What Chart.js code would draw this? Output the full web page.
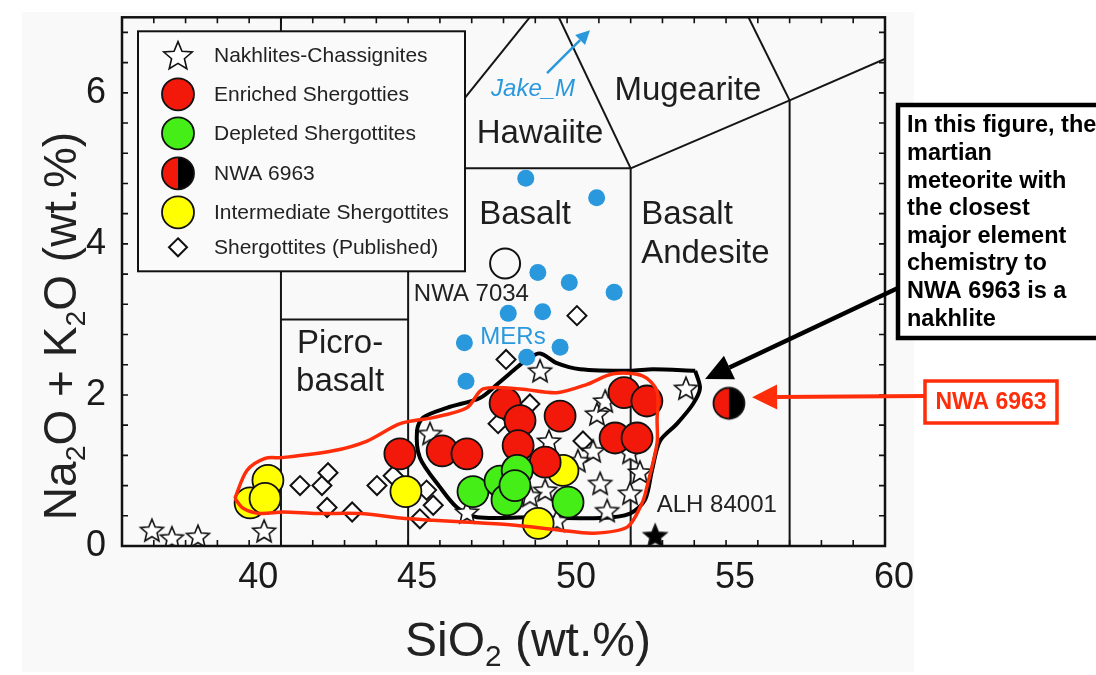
<!DOCTYPE html>
<html>
<head>
<meta charset="utf-8">
<script src="https://cdn.jsdelivr.net/npm/chart.js@4.4.1/dist/chart.umd.min.js"></script>
<style>
  html, body { margin: 0; padding: 0; background: #fff; }
  #wrap { width: 1096px; height: 675px; }
</style>
</head>
<body>
<div id="wrap"><canvas id="tas" width="1096" height="675"></canvas></div>
<script>
// --- data (SiO2 wt.% / Na2O+K2O wt.%) ---
const nakhliteSiO2 = [36.94, 37.57, 38.39, 40.47, 49.15, 50.94, 49.43, 50.82, 51.98, 51.04, 51.98, 49.31, 53.74, 49.68, 51.26, 45.69, 46.85, 51.20, 50.34, 48.83, 52.29];
const nakhliteAlk  = [0.21, 0.11, 0.13, 0.20, 2.32, 1.75, 1.39, 1.26, 1.24, 0.83, 0.70, 0.74, 2.09, 0.34, 0.47, 1.49, 0.45, 1.92, 1.13, 0.67, 0.98];

const alhSiO2 = [52.77];
const alhAlk  = [0.14];

const enrichedSiO2 = [44.74, 46.07, 46.85, 48.05, 48.52, 49.78, 48.46, 49.31, 51.79, 52.51, 51.51, 52.20];
const enrichedAlk  = [1.22, 1.26, 1.22, 1.89, 1.66, 1.72, 1.33, 1.11, 2.03, 1.92, 1.43, 1.43];

const depletedSiO2 = [47.04, 47.89, 48.11, 48.43, 48.36, 50.03];
const depletedAlk  = [0.72, 0.86, 0.61, 1.00, 0.80, 0.58];

const intermediateSiO2 = [40.59, 40.03, 40.50, 44.93, 49.87, 49.09];
const intermediateAlk  = [0.87, 0.57, 0.63, 0.72, 1.00, 0.30];

const nwa6963SiO2 = [55.09];
const nwa6963Alk  = [1.89];

const nwa7034SiO2 = [48.05];
const nwa7034Alk  = [3.74];

const publishedSiO2 = [41.60, 42.29, 42.48, 42.45, 43.24, 44.02, 44.53, 45.58, 45.79, 45.37, 50.31, 48.08, 48.83, 47.83, 50.50];
const publishedAlk  = [0.80, 0.80, 0.97, 0.51, 0.45, 0.80, 0.93, 0.74, 0.54, 0.36, 3.05, 2.47, 1.88, 1.62, 1.39];

const merSiO2 = [48.70, 50.93, 49.08, 50.07, 51.48, 48.15, 49.23, 46.77, 49.78, 48.73, 46.82];
const merAlk  = [4.87, 4.61, 3.62, 3.49, 3.36, 3.08, 3.10, 2.69, 2.63, 2.50, 2.18];

// nakhlite field (black outline)
const nakhliteFieldSiO2 = [54.03, 54.18, 53.96, 53.46, 52.92, 52.67, 52.45, 51.98, 51.04, 48.83, 47.17, 46.54, 46.00, 45.37, 45.28, 45.47, 46.22, 47.26, 47.80, 48.30, 48.74, 49.15, 49.68, 50.41, 51.98, 52.70];
const nakhliteFieldAlk  = [2.32, 2.09, 1.88, 1.62, 1.39, 1.00, 0.61, 0.43, 0.37, 0.38, 0.38, 0.51, 0.78, 1.17, 1.53, 1.70, 1.83, 1.96, 2.14, 2.32, 2.47, 2.55, 2.42, 2.34, 2.32, 2.34];

// shergottite field (red outline)
const shergFieldSiO2 = [39.55, 39.93, 40.50, 41.03, 42.64, 43.71, 44.75, 45.78, 46.85, 47.36, 48.52, 49.68, 50.63, 51.45, 52.39, 52.83, 52.83, 52.83, 52.51, 52.36, 51.89, 50.82, 49.78, 48.20, 46.63, 45.78, 44.75, 43.49, 42.13, 41.06, 40.34, 39.81];
const shergFieldAlk  = [0.63, 1.00, 1.16, 1.17, 1.26, 1.39, 1.62, 1.70, 1.83, 2.08, 2.08, 2.03, 2.14, 2.28, 2.25, 2.05, 1.66, 1.36, 0.78, 0.57, 0.25, 0.17, 0.21, 0.28, 0.32, 0.34, 0.37, 0.43, 0.43, 0.45, 0.43, 0.50];

// TAS field boundaries [x1, y1, x2, y2]
const tasBoundaries = [
    [41, 0, 41, 7], [41, 3, 45, 3], [45, 0, 45, 5], [45, 5, 52, 5], [52, 0, 52, 5],
    [45, 5, 49.4, 7.3], [49.4, 7.3, 52, 5], [52, 5, 57, 5.9], [57, 0, 57, 5.9],
    [57, 5.9, 63, 7], [53, 9.3, 57, 5.9]
];

const xTickLabels = [40, 45, 50, 55, 60];
const yTickLabels = [0, 2, 4, 6];

const legendLabels = ['Nakhlites-Chassignites', 'Enriched Shergotties', 'Depleted Shergottites',
    'NWA 6963', 'Intermediate Shergottites', 'Shergottites (Published)'];

const FONT = '"Liberation Sans", Arial, Helvetica, sans-serif';
const RED = '#f2180a';
const GREEN = '#45ee16';
const YELLOW = '#ffff00';
const BLUE = '#2a98dc';
const ANNO_RED = '#ff2d0a';

// --- symbol helpers ---
function starPath(c, cx, cy, R, r) {
    c.beginPath();
    for (let i = 0; i < 10; i++) {
        const a = -Math.PI / 2 + i * Math.PI / 5;
        const rad = i % 2 === 0 ? R : r;
        const px = cx + rad * Math.cos(a), py = cy + rad * Math.sin(a);
        if (i === 0) c.moveTo(px, py); else c.lineTo(px, py);
    }
    c.closePath();
}
function drawStar(c, cx, cy, R, fill) {
    starPath(c, cx, cy + R * 0.09, R, R * 0.45);
    c.fillStyle = fill; c.fill();
    c.lineWidth = 1.6; c.strokeStyle = '#111'; c.lineJoin = 'miter'; c.stroke();
}
function drawHalf(c, cx, cy, R) {
    c.beginPath(); c.moveTo(cx, cy); c.arc(cx, cy, R, Math.PI / 2, Math.PI * 1.5); c.closePath();
    c.fillStyle = RED; c.fill();
    c.beginPath(); c.moveTo(cx, cy); c.arc(cx, cy, R, -Math.PI / 2, Math.PI / 2); c.closePath();
    c.fillStyle = '#000'; c.fill();
    c.beginPath(); c.arc(cx, cy, R, 0, Math.PI * 2);
    c.lineWidth = 1.8; c.strokeStyle = '#111'; c.stroke();
}
function makeCanvas(size, fn) {
    const cv = document.createElement('canvas');
    cv.width = size; cv.height = size;
    fn(cv.getContext('2d'), size / 2);
    return cv;
}
const openStar = makeCanvas(30, (c, m) => drawStar(c, m, m, 12, '#fff'));
const blackStar = makeCanvas(30, (c, m) => drawStar(c, m, m, 12, '#000'));
const halfDot = makeCanvas(38, (c, m) => drawHalf(c, m, m, 15.5));

const pts = (xs, ys) => xs.map((x, i) => ({ x: x, y: ys[i] }));
const loop = (xs, ys) => { const p = pts(xs, ys); p.push(p[0]); return p; };

// --- datasets (lower order = drawn on top) ---
const datasets = [];
tasBoundaries.forEach(s => datasets.push({
    label: '_tas', data: [{ x: s[0], y: s[1] }, { x: s[2], y: s[3] }],
    showLine: true, borderColor: '#151515', borderWidth: 2, pointRadius: 0, order: 30
}));
datasets.push({
    label: '_nakhliteField', data: loop(nakhliteFieldSiO2, nakhliteFieldAlk),
    showLine: true, borderColor: '#000', borderWidth: 4, tension: 0.3, pointRadius: 0, order: 20
});
datasets.push({
    label: '_shergField', data: loop(shergFieldSiO2, shergFieldAlk),
    showLine: true, borderColor: ANNO_RED, borderWidth: 3.5, tension: 0.3, pointRadius: 0, order: 0
});
datasets.push({ label: 'MERs', data: pts(merSiO2, merAlk), pointStyle: 'circle', pointRadius: 8.5,
    backgroundColor: BLUE, borderWidth: 0, order: 14 });
datasets.push({ label: 'NWA 7034', data: pts(nwa7034SiO2, nwa7034Alk), pointStyle: 'circle', pointRadius: 15,
    backgroundColor: 'rgba(0,0,0,0)', borderColor: '#111', borderWidth: 2, order: 13 });
datasets.push({ label: legendLabels[5], data: pts(publishedSiO2, publishedAlk), pointStyle: 'rectRot', pointRadius: 9.5,
    backgroundColor: '#fff', borderColor: '#111', borderWidth: 2, order: 12 });
datasets.push({ label: legendLabels[0], data: pts(nakhliteSiO2, nakhliteAlk), pointStyle: openStar, pointRadius: 12, order: 10 });
datasets.push({ label: 'ALH 84001', data: pts(alhSiO2, alhAlk), pointStyle: blackStar, pointRadius: 12, order: 10 });
datasets.push({ label: legendLabels[4], data: pts(intermediateSiO2, intermediateAlk), pointStyle: 'circle', pointRadius: 15.5,
    backgroundColor: YELLOW, borderColor: '#111', borderWidth: 1.8, order: 5 });
datasets.push({ label: legendLabels[1], data: pts(enrichedSiO2, enrichedAlk), pointStyle: 'circle', pointRadius: 15.5,
    backgroundColor: RED, borderColor: '#111', borderWidth: 1.8, order: 4 });
datasets.push({ label: legendLabels[2], data: pts(depletedSiO2, depletedAlk), pointStyle: 'circle', pointRadius: 15.5,
    backgroundColor: GREEN, borderColor: '#111', borderWidth: 1.8, order: 3 });
datasets.push({ label: legendLabels[3], data: pts(nwa6963SiO2, nwa6963Alk), pointStyle: halfDot, pointRadius: 15.5, order: 2 });

// --- helpers for drawing text ---
function richText(c, parts, x, y, size, align) {
    const sub = size * 0.62;
    let total = 0;
    parts.forEach(p => { c.font = (p[1] ? sub : size) + 'px ' + FONT; total += c.measureText(p[0]).width; });
    let cx = align === 'center' ? x - total / 2 : x;
    c.textAlign = 'left'; c.textBaseline = 'alphabetic';
    parts.forEach(p => {
        c.font = (p[1] ? sub : size) + 'px ' + FONT;
        c.fillText(p[0], cx, p[1] ? y + size * 0.2 : y);
        cx += c.measureText(p[0]).width;
    });
}
function arrow(c, x1, y1, x2, y2, color, width, headLen, headHalf) {
    const a = Math.atan2(y2 - y1, x2 - x1);
    const bx = x2 - headLen * Math.cos(a), by = y2 - headLen * Math.sin(a);
    c.strokeStyle = color; c.lineWidth = width; c.lineCap = 'butt';
    c.beginPath(); c.moveTo(x1, y1); c.lineTo(bx, by); c.stroke();
    c.fillStyle = color; c.beginPath(); c.moveTo(x2, y2);
    c.lineTo(bx + headHalf * Math.sin(a), by - headHalf * Math.cos(a));
    c.lineTo(bx - headHalf * Math.sin(a), by + headHalf * Math.cos(a));
    c.closePath(); c.fill();
}

// background of the figure
const backdrop = {
    id: 'backdrop',
    beforeDraw(chart) {
        const c = chart.ctx;
        c.save();
        c.fillStyle = '#fff'; c.fillRect(0, 0, chart.width, chart.height);
        c.fillStyle = '#f9f9f9'; c.fillRect(22, 12, 892, 660);
        c.restore();
    }
};

// legend box inside the plot
const insideLegend = {
    id: 'insideLegend',
    afterDatasetsDraw(chart) {
        const c = chart.ctx, a = chart.chartArea;
        const L = a.left + 16, T = a.top + 14, W = 327, H = 240;
        c.save();
        c.fillStyle = '#fafafa'; c.fillRect(L, T, W, H);
        c.lineWidth = 2; c.strokeStyle = '#111'; c.strokeRect(L, T, W, H);
        const rows = [24, 63, 102, 142, 181, 216];
        const sx = L + 40, tx = L + 76;
        rows.forEach((ry, i) => {
            const y = T + ry;
            if (i === 0) drawStar(c, sx, y, 15, '#fff');
            else if (i === 3) drawHalf(c, sx, y, 16);
            else if (i === 5) {
                c.beginPath(); c.moveTo(sx, y - 9); c.lineTo(sx + 9, y); c.lineTo(sx, y + 9); c.lineTo(sx - 9, y); c.closePath();
                c.fillStyle = '#fff'; c.fill(); c.lineWidth = 2; c.strokeStyle = '#111'; c.stroke();
            } else {
                c.beginPath(); c.arc(sx, y, 16, 0, Math.PI * 2);
                c.fillStyle = [null, RED, GREEN, null, YELLOW][i]; c.fill();
                c.lineWidth = 1.8; c.strokeStyle = '#111'; c.stroke();
            }
            c.fillStyle = '#222'; c.font = '21px ' + FONT; c.textAlign = 'left'; c.textBaseline = 'middle';
            c.fillText(legendLabels[i], tx, y + 1);
        });
        c.restore();
    }
};

// frame with inward ticks on all four sides
const frame = {
    id: 'frame',
    afterDatasetsDraw(chart) {
        const c = chart.ctx, a = chart.chartArea, xs = chart.scales.x, ys = chart.scales.y;
        c.save();
        c.strokeStyle = '#111'; c.lineWidth = 1.6;
        c.beginPath();
        xs.ticks.forEach(t => {
            const p = xs.getPixelForValue(t.value);
            c.moveTo(p, a.bottom); c.lineTo(p, a.bottom - 6);
            c.moveTo(p, a.top); c.lineTo(p, a.top + 6);
        });
        ys.ticks.forEach(t => {
            const p = ys.getPixelForValue(t.value);
            c.moveTo(a.left, p); c.lineTo(a.left + 6, p);
            c.moveTo(a.right, p); c.lineTo(a.right - 6, p);
        });
        c.stroke();
        c.lineWidth = 2.5;
        c.strokeRect(a.left, a.top, a.right - a.left, a.bottom - a.top);
        c.restore();
    }
};

// labels, arrows, call-out boxes, axis titles
const annotations = {
    id: 'annotations',
    afterDraw(chart) {
        const c = chart.ctx, xs = chart.scales.x, ys = chart.scales.y;
        const X = v => xs.getPixelForValue(v), Y = v => ys.getPixelForValue(v);
        c.save();
        c.fillStyle = '#1e1e1e'; c.textBaseline = 'middle';
        c.font = '33px ' + FONT; c.textAlign = 'center';
        c.fillText('Hawaiite', X(49.15), Y(5.46));
        c.fillText('Mugearite', X(53.80), Y(6.03));
        c.fillText('Basalt', X(48.68), Y(4.38));
        c.fillText('Picro-', X(42.86), Y(2.67));
        c.fillText('basalt', X(42.86), Y(2.17));
        c.textAlign = 'left';
        c.fillText('Basalt', X(52.33), Y(4.38));
        c.fillText('Andesite', X(52.33), Y(3.87));

        c.font = '24px ' + FONT; c.fillStyle = '#222';
        c.textAlign = 'center'; c.fillText('NWA 7034', X(46.99), Y(3.33));
        c.textAlign = 'left'; c.fillText('ALH 84001', X(52.82), Y(0.54));
        c.fillStyle = BLUE; c.textAlign = 'center';
        c.fillText('MERs', X(48.30), Y(2.76));
        c.font = 'italic 24px ' + FONT;
        c.fillText('Jake_M', X(48.93), Y(6.05));
        arrow(c, X(49.37), Y(6.26), X(50.72), Y(6.83), BLUE, 2.5, 14, 7);

        // call-out text box
        c.fillStyle = '#fff'; c.fillRect(898, 105, 210, 233);
        c.lineWidth = 4.5; c.strokeStyle = '#000'; c.strokeRect(898, 105, 210, 233);
        const lines = ['In this figure, the', 'martian', 'meteorite with', 'the closest',
            'major element', 'chemistry to', 'NWA 6963 is a', 'nakhlite'];
        c.fillStyle = '#000'; c.font = 'bold 23.5px ' + FONT; c.textAlign = 'left'; c.textBaseline = 'middle';
        lines.forEach((t, i) => c.fillText(t, 907, 126 + i * 27.6));
        arrow(c, 898, 288, X(54.34), Y(2.21), '#000', 4.5, 27, 13);

        // red label box
        c.fillStyle = '#fff'; c.fillRect(925, 381, 132, 42);
        c.lineWidth = 3.5; c.strokeStyle = ANNO_RED; c.strokeRect(925, 381, 132, 42);
        c.fillStyle = ANNO_RED; c.font = 'bold 23px ' + FONT; c.textAlign = 'center';
        c.fillText('NWA 6963', 991, 403);
        arrow(c, 925, 396, X(55.82), Y(1.97), ANNO_RED, 4, 25, 12.5);

        // axis titles
        c.fillStyle = '#222';
        richText(c, [['SiO', false], ['2', true], [' (wt.%)', false]], 528, 656, 48, 'center');
        c.translate(76, 326); c.rotate(-Math.PI / 2);
        richText(c, [['Na', false], ['2', true], ['O + K', false], ['2', true], ['O (wt.%)', false]], 0, 0, 46, 'center');
        c.restore();
    }
};

const ctx = document.getElementById('tas').getContext('2d');
const tasChart = new Chart(ctx, {
    type: 'scatter',
    data: { datasets: datasets },
    options: {
        responsive: false,
        animation: false,
        devicePixelRatio: 1,
        events: [],
        layout: { padding: { left: 0, top: 14, right: 211, bottom: 0 } },
        plugins: { legend: { display: false }, tooltip: { enabled: false } },
        scales: {
            x: {
                type: 'linear', min: 36, max: 60,
                grid: { display: false, drawTicks: false },
                border: { display: false },
                afterBuildTicks: s => { s.ticks = []; for (let v = 36; v <= 60; v++) s.ticks.push({ value: v }); },
                afterFit: s => { s.height = 129; s.paddingLeft = 0; s.paddingRight = 0; },
                ticks: {
                    autoSkip: false, maxRotation: 0, labelOffset: 9, padding: 10,
                    color: '#1a1a1a', font: { family: FONT, size: 36 },
                    callback: v => xTickLabels.includes(v) ? String(v) : ''
                }
            },
            y: {
                type: 'linear', min: 0, max: 7,
                grid: { display: false, drawTicks: false },
                border: { display: false },
                afterBuildTicks: s => { s.ticks = []; for (let i = 0; i <= 17; i++) s.ticks.push({ value: Math.round(i * 4) / 10 }); },
                afterFit: s => { s.width = 122; s.paddingTop = 0; s.paddingBottom = 0; },
                ticks: {
                    autoSkip: false, padding: 16,
                    color: '#1a1a1a', font: { family: FONT, size: 36 },
                    callback: v => yTickLabels.includes(v) ? String(v) : ''
                }
            }
        }
    },
    plugins: [backdrop, insideLegend, frame, annotations]
});
</script>
</body>
</html>
